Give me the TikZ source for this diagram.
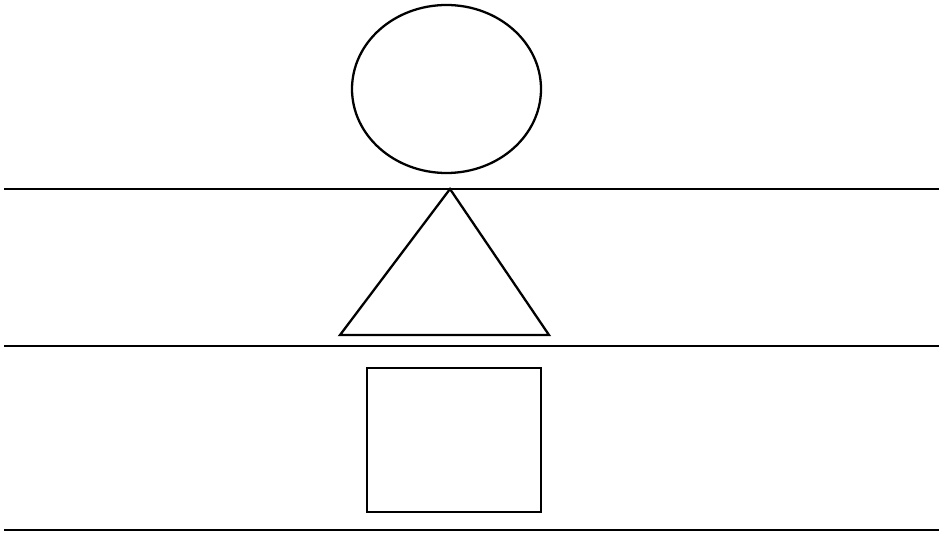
\documentclass[tikz,border=0pt]{standalone}
\tikzset{
  shape line/.style={line width=1.3pt},
  rule line/.style={line width=1.6pt}
}
\begin{document}
\begin{tikzpicture}[x=0.02cm,y=-0.02cm]
\useasboundingbox (0,0) rectangle (939,533);
\draw[shape line] (446.5,89) ellipse (94.5 and 84);
\draw[rule line] (4,189) -- (939,189);
\draw[shape line] (450,189) -- (549,335) -- (340,335) -- cycle;
\draw[rule line] (4,346) -- (939,346);
\draw[shape line] (367,368) rectangle (541,512);
\draw[rule line] (4,530) -- (939,530);
\end{tikzpicture}
\end{document}
